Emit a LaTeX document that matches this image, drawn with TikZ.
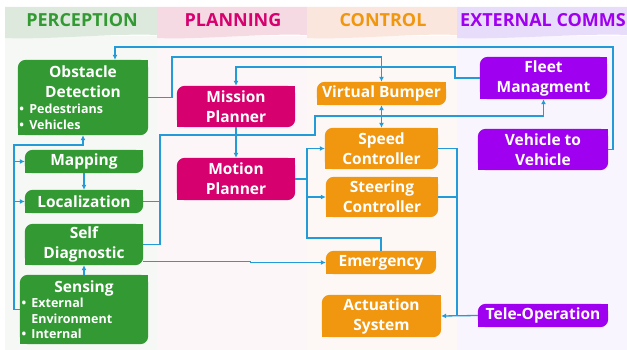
\documentclass[tikz,border=0pt]{standalone}
\usepackage{fontspec}
\setmainfont{Open Sans}
\usetikzlibrary{positioning, arrows.meta, backgrounds}

\definecolor{perc}{HTML}{339933}
\definecolor{plan}{HTML}{D6006E}
\definecolor{ctrl}{HTML}{F0960F}
\definecolor{ext}{HTML}{9F00F0}
\definecolor{link}{HTML}{229BD8}
\definecolor{percH}{HTML}{DCE9DC}
\definecolor{percB}{HTML}{F5F8F5}
\definecolor{planH}{HTML}{F5DAE4}
\definecolor{planB}{HTML}{FCF6F8}
\definecolor{ctrlH}{HTML}{FAE6DC}
\definecolor{ctrlB}{HTML}{FDF8F6}
\definecolor{extH}{HTML}{E8DCFB}
\definecolor{extB}{HTML}{F8F5FE}

\begin{document}
\begin{tikzpicture}[x=1pt, y=-1pt,
    tile/.style={text=white, align=center, inner sep=0pt, font=\fontsize{15.5}{20}\selectfont\bfseries},
    wh/.style 2 args={minimum width=#1pt, minimum height=#2pt},
    head/.style={font=\fontsize{18}{20}\selectfont\bfseries},
    wire/.style={draw=link, line width=1.3pt},
    flow/.style={wire, -{Latex[length=5pt,width=5pt]}}]
    \useasboundingbox (0,0) rectangle (627,350);

    % Perception
    \node[tile, text width=127pt, inner xsep=1.5pt, minimum height=75pt] (obst) at (83,97.5)
        {Obstacle\\Detection\par
         {\raggedright\fontsize{12.5}{16}\selectfont\textbullet\ Pedestrians\\\textbullet\ Vehicles\par}};
    \node[tile, wh={118}{23}] (map) at (84,161.5) {Mapping};
    \node[tile, wh={118}{23}] (loc) at (84,201.5) {Localization};
    \node[tile, wh={118}{41}] (diag) at (84,244.5) {Self\\Diagnostic};
    \node[tile, text width=125pt, inner xsep=1.5pt, minimum height=69pt] (sens) at (84,309.5)
        {Sensing\par
         {\raggedright\fontsize{12.5}{15.5}\selectfont\textbullet\ External\\\phantom{\textbullet\ }Environment\\\textbullet\ Internal\par}};

    % Planning
    \node[tile, wh={118}{41}] (miss) at (236,106.5) {Mission\\Planner};
    \node[tile, wh={118}{42}] (motion) at (236,179) {Motion\\Planner};

    % Control
    \node[tile, wh={129}{23}] (vb) at (381.5,93.5) {Virtual Bumper};
    \node[tile, wh={113}{41}] (speed) at (381.5,148.5) {Speed\\Controller};
    \node[tile, wh={112}{40}] (steer) at (382,197) {Steering\\Controller};
    \node[tile, wh={110}{23}] (emerg) at (381,262.5) {Emergency};
    \node[tile, wh={119}{42}] (act) at (381.5,316) {Actuation\\System};

    % External comms
    \node[tile, wh={127}{42}] (fleet) at (543.5,78) {Fleet\\Managment};
    \node[tile, wh={130}{41}] (v2v) at (543,149.5) {Vehicle to\\Vehicle};
    \node[tile, wh={130}{23}] (tele) at (543,315.5) {Tele-Operation};

    \begin{scope}[on background layer]
        % columns
        \foreach \l/\r/\hc/\bc/\tc/\t in {5/157/percH/percB/perc/PERCEPTION,
                157/307/planH/planB/plan/PLANNING,
                307/457/ctrlH/ctrlB/ctrl/CONTROL,
                457/627/extH/extB/ext/EXTERNAL COMMS} {
            \fill[\bc] (\l,36) rectangle (\r,350);
            \fill[\hc] (\l,7) -- (\r,7) -- (\r,35) .. controls ({\r-40},33) and ({\l+40},40) .. (\l,38) -- cycle;
            \draw[white, line width=1pt] (\r,7) -- (\r,350);
            \node[head, text=\tc] at ({(\l+\r)/2+1},20.5) {\t};
        }
        % tile shapes
        \foreach \n/\c in {obst/perc, map/perc, loc/perc, diag/perc, sens/perc,
                miss/plan, motion/plan, vb/ctrl, speed/ctrl, steer/ctrl, emerg/ctrl, act/ctrl,
                fleet/ext, v2v/ext, tele/ext} {
            \fill[\c, rounded corners=8pt] (\n.south west) rectangle (\n.north east);
            \fill[\c] (\n.north east) rectangle ([shift={(-9pt,-9pt)}]\n.north east);
            \fill[\c] (\n.south west) rectangle ([shift={(9pt,9pt)}]\n.south west);
        }
    \end{scope}

    % sensing bus
    \coordinate (sbus) at (14,145);
    \draw[flow] (sens.west) -| (sbus) -| (obst.south);
    \draw[flow] (map.west -| sbus) -- (map.west);
    \draw[flow] (loc.west -| sbus) -- (loc.west);
    \draw[flow] (sens.north) -- (diag.south);
    \draw[flow] (map.south) -- (loc.north);

    % top loops
    \draw[flow] (obst.east) -| (172,57) -| (vb.north);
    \draw[flow] (fleet.west) -| (455,67) -| (miss.north);
    \draw[flow] (v2v.east) -| (613,47) -| ([xshift=32pt]obst.north);

    % localization / diagnostic to planning
    \coordinate (pbus) at (160,135);
    \draw[wire] (loc.east) -| (pbus);
    \draw[flow] (diag.east) -| (pbus) -| (315,116) -| (fleet.south);
    \draw[flow] (miss.south) -- (motion.north);
    \draw[wire, {Latex[length=5pt,width=5pt]}-{Latex[length=5pt,width=5pt]}] (vb.south) -- (speed.north);

    % motion bus
    \coordinate (mbus) at (307,179);
    \draw[wire] (motion.east) -- (mbus);
    \draw[flow] (mbus) |- (speed.west);
    \draw[flow] (mbus) |- (steer.west);
    \draw[wire] (mbus) |- (381,238) -- (emerg.north);
    \draw[flow] ([yshift=-17pt]diag.east) -- ++(107,0) |- (emerg.west);

    % actuation
    \coordinate (abus) at (457,316);
    \draw[wire] (speed.east) -| (abus);
    \draw[wire] (steer.east) -- (steer.east -| abus);
    \draw[flow] (tele.west) -- (act.east);
\end{tikzpicture}
\end{document}
